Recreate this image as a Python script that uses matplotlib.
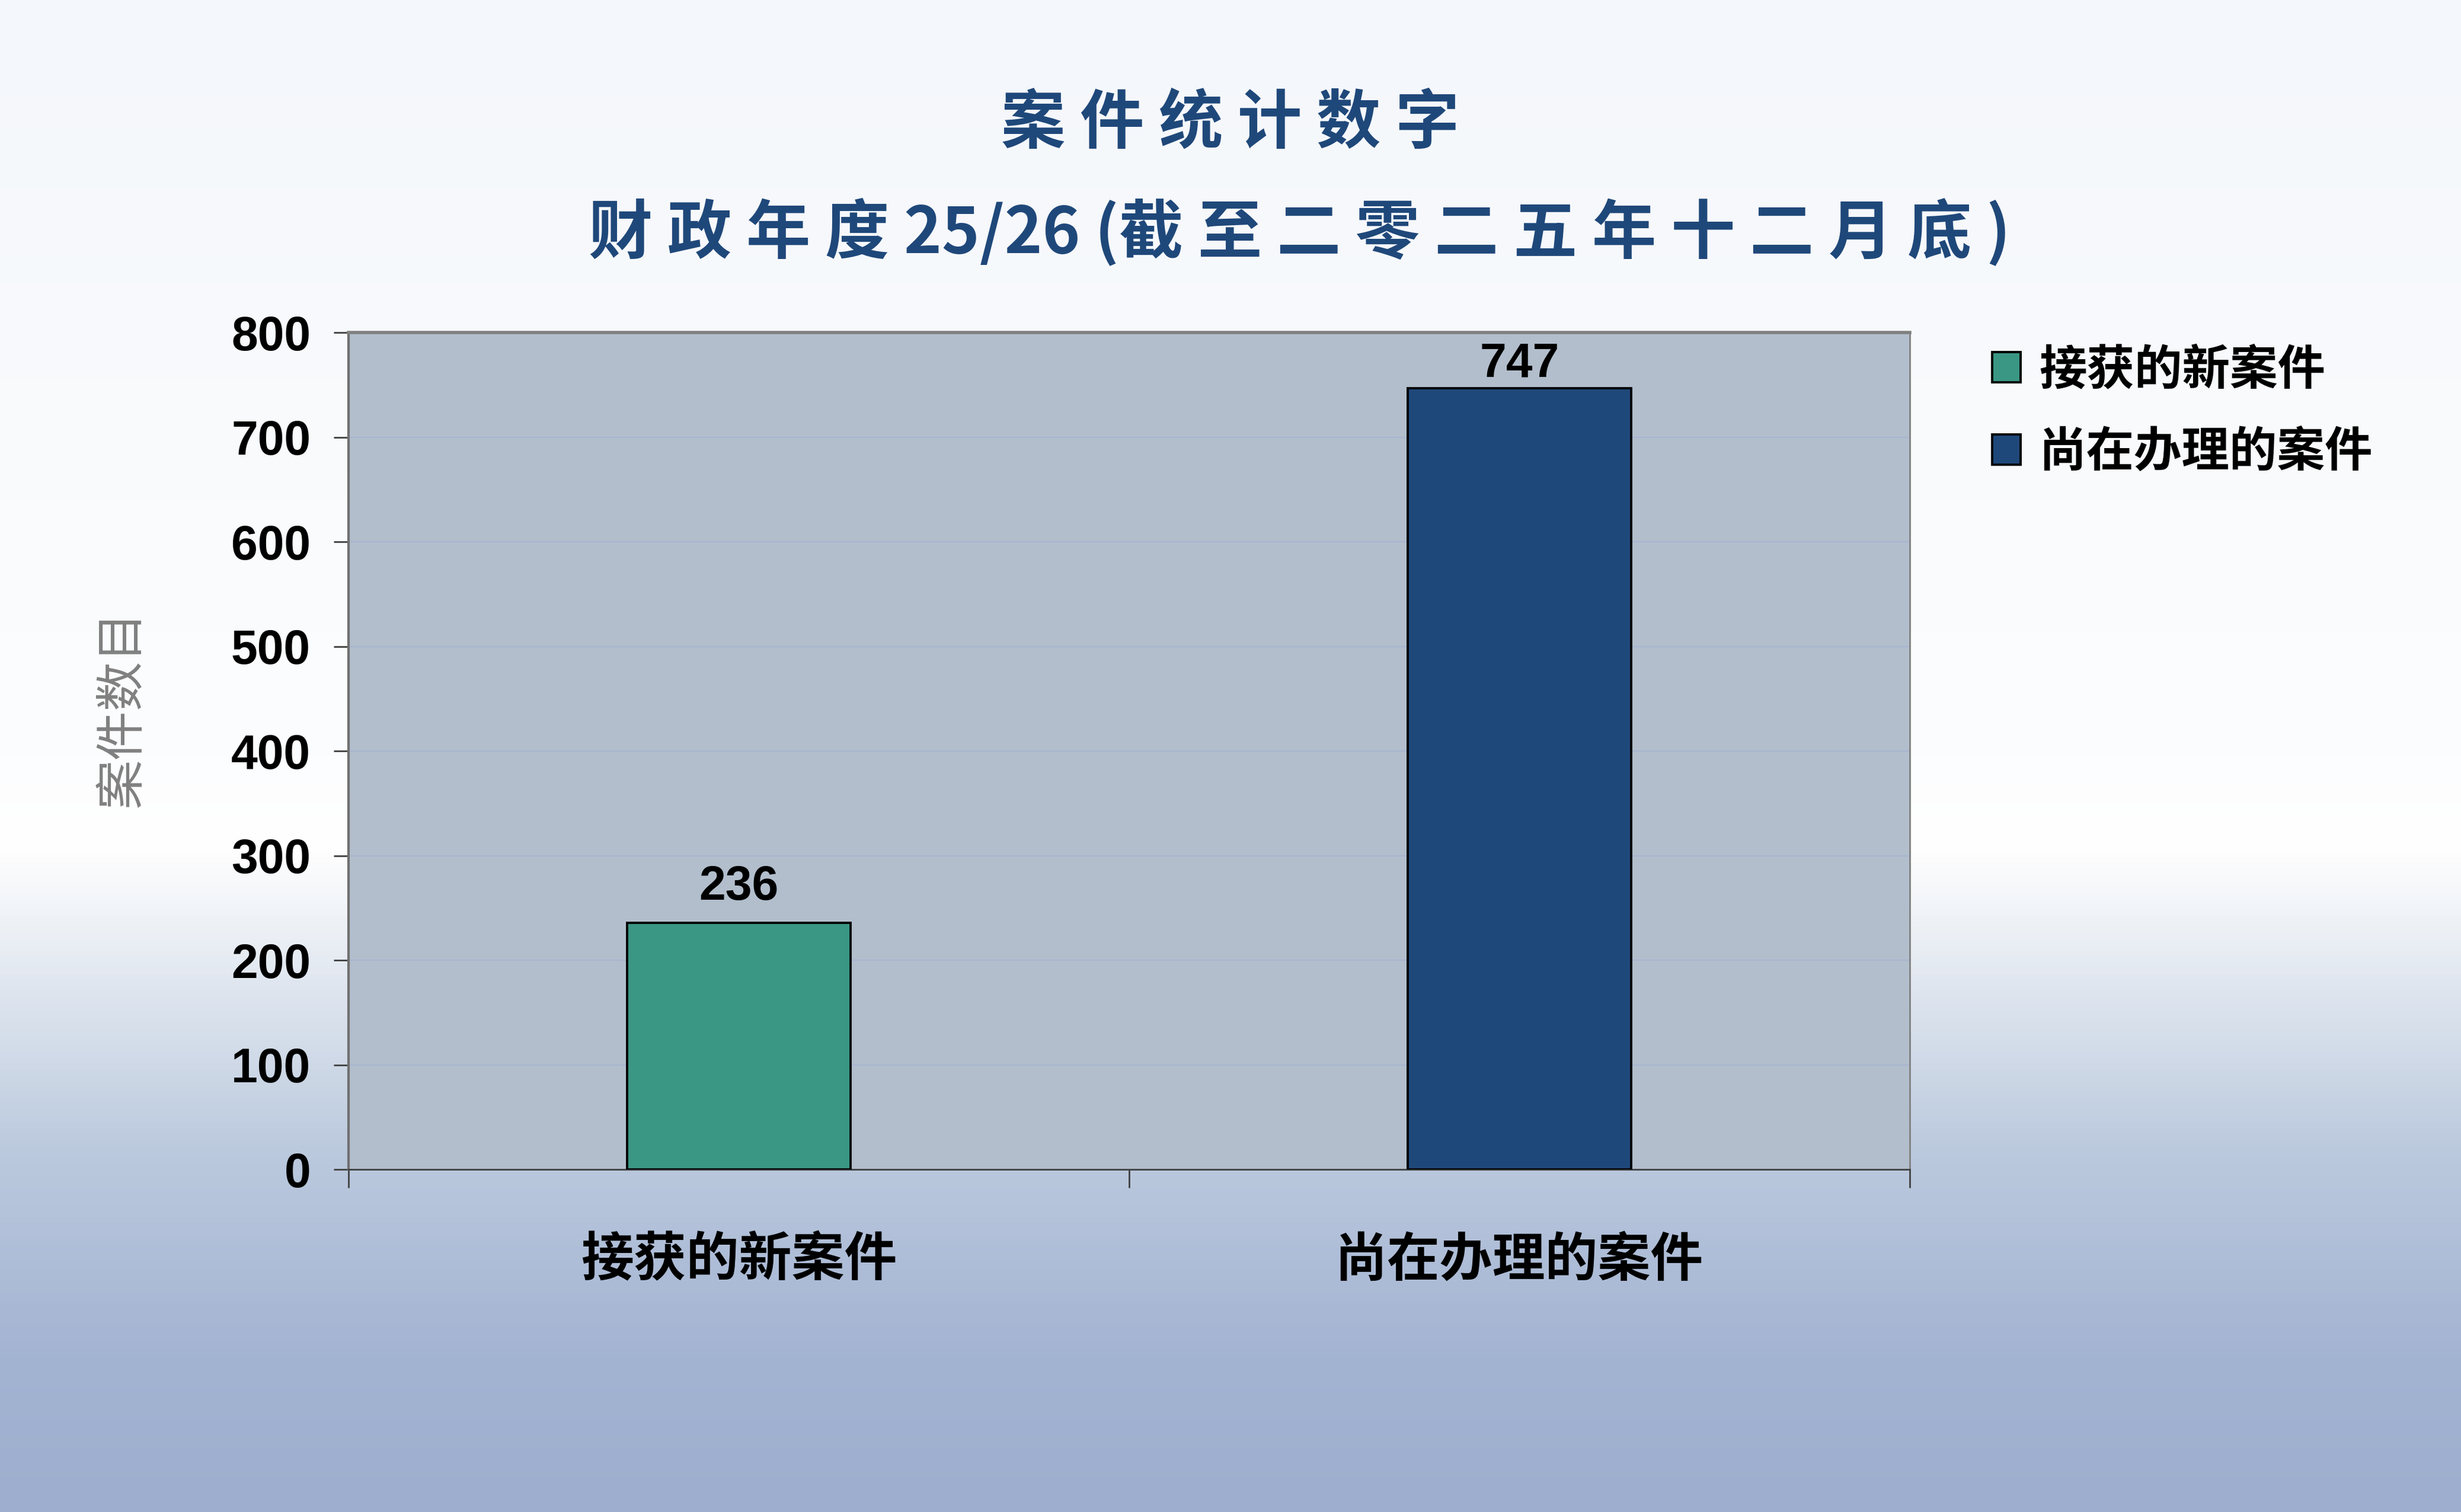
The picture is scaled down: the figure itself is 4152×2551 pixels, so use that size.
import numpy as np
import matplotlib
matplotlib.use('Agg')
import matplotlib.pyplot as plt
from matplotlib.colors import LinearSegmentedColormap
from matplotlib.ticker import FixedLocator, MultipleLocator

plt.rcParams['font.family'] = ['Noto Sans CJK SC', 'DejaVu Sans']

categories = ['接获的新案件', '尚在办理的案件']
case_counts = [236, 747]
bar_colors = ['#3A9784', '#1F487A']
title_1 = '案 件 统 计 数 字'
title_2 = '财 政 年 度 25/26 (截 至 二 零 二 五 年 十 二 月 底 )'
y_label = '案件数目'

fig = plt.figure(figsize=(20.76, 12.755), dpi=200)

# background gradient
bg = fig.add_axes([0, 0, 1, 1], zorder=-10)
stops = [(0.0, (244/255, 247/255, 251/255)),
         (0.50, (252/255, 253/255, 254/255)),
         (0.56, (1.0, 1.0, 1.0)),
         (0.76, (188/255, 202/255, 222/255)),
         (0.90, (163/255, 179/255, 210/255)),
         (1.0, (158/255, 174/255, 206/255))]
cmap = LinearSegmentedColormap.from_list('bg', stops)
grad = np.linspace(0, 1, 512).reshape(-1, 1)
bg.imshow(grad, aspect='auto', cmap=cmap, extent=[0, 1, 0, 1], origin='upper')
bg.set_axis_off()

ax = fig.add_axes([0.1416, 0.2264, 0.6344, 0.5536])
ax.set_facecolor('#B2BECC')
x = np.arange(len(categories))
bars = ax.bar(x, case_counts, width=0.286, color=bar_colors,
              edgecolor='black', linewidth=1.4, label=categories, zorder=3)

ax.set_xlim(-0.5, 1.5)
ax.set_ylim(0, 800)

# data labels, kept inside the plot area like excel does
ax_h_pt = ax.get_position().height * fig.get_figheight() * 72
for xi, v in zip(x, case_counts):
    room = (800 - v) / 800 * ax_h_pt
    off = min(8, room - 33)
    ax.annotate(str(v), (xi, v), xytext=(0, off), textcoords='offset points',
                ha='center', va='bottom', fontsize=29, fontweight='bold',
                family=['Liberation Sans', 'DejaVu Sans'])

ax.yaxis.set_major_locator(MultipleLocator(100))
ax.grid(axis='y', color='#A7B5D0', linewidth=0.8, zorder=0)
ax.set_axisbelow(True)

ax.set_xticks(x)
ax.set_xticklabels(categories, fontsize=32, fontweight='bold')
ax.tick_params(axis='x', which='major', length=0, pad=39)
ax.xaxis.set_minor_locator(FixedLocator([-0.5, 0.5, 1.5]))
ax.tick_params(axis='x', which='minor', length=11, width=1, color='#404040',
               direction='out')
ax.tick_params(axis='y', length=9, width=1, color='#404040', pad=14)
for lab in ax.get_yticklabels():
    lab.set_family(['Liberation Sans', 'DejaVu Sans'])
    lab.set_fontweight('bold')
    lab.set_fontsize(29)

ax.spines['top'].set_color('#808080')
ax.spines['top'].set_linewidth(2.0)
ax.spines['right'].set_color('#808080')
ax.spines['right'].set_linewidth(1.0)
ax.spines['left'].set_color('#707070')
ax.spines['left'].set_linewidth(1.5)
ax.spines['bottom'].set_color('#404040')
ax.spines['bottom'].set_linewidth(1.0)

fig.text(0.5, 0.918, title_1, ha='center', va='center', fontsize=39,
         fontweight='bold', color='#1F487A')
fig.text(0.528, 0.846, title_2, ha='center', va='center', fontsize=39,
         fontweight='bold', color='#1F487A')
fig.text(0.0497, 0.531, y_label, ha='center', va='center', rotation=90,
         fontsize=30, color='#808080')

leg = fig.legend(handles=list(bars), labels=categories, loc='upper left',
                 bbox_to_anchor=(0.8095, 0.771), frameon=False,
                 prop={'size': 29, 'weight': 'bold'},
                 handlelength=0.6, handleheight=0.6, handletextpad=0.38,
                 labelspacing=0.72, borderpad=0, borderaxespad=0)

fig.savefig('out.png', dpi=200)
